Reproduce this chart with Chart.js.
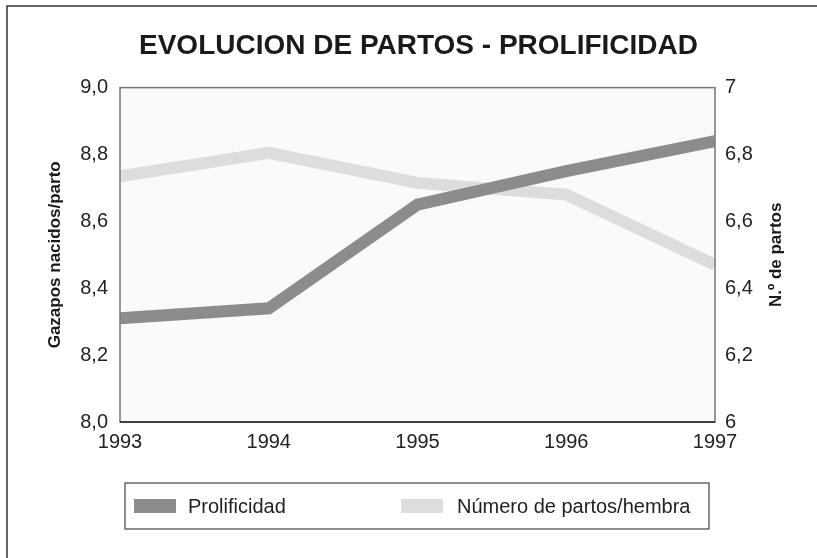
<!DOCTYPE html>
<html>
<head>
<meta charset="utf-8">
<script src="https://cdn.jsdelivr.net/npm/chart.js@4/dist/chart.umd.min.js"></script>
<style>
  html, body { margin: 0; padding: 0; background: #fff; }
  #wrap { width: 817px; height: 558px; position: relative; }
</style>
</head>
<body>
<div id="wrap"><canvas id="partosChart" width="817" height="558"></canvas></div>
<script>
// datos
const years = ['1993', '1994', '1995', '1996', '1997'];
const prolificidad = [8.31, 8.34, 8.65, 8.75, 8.84];
const partosHembra = [6.735, 6.805, 6.715, 6.68, 6.47];
const leftTicks = [8.0, 8.2, 8.4, 8.6, 8.8, 9.0];
const rightTicks = [6, 6.2, 6.4, 6.6, 6.8, 7];
const rightTitle = 'N.º de partos';

const FONT = 'Arial, "Liberation Sans", Helvetica, sans-serif';
const darkGrey = '#8c8c8c';
const lightGrey = '#dddddd';

function comma(v, forceDecimal) {
  if (!forceDecimal && Number.isInteger(v)) return String(v);
  return v.toFixed(1).replace('.', ',');
}

// fondo, marco del area de trazado y marco exterior
const framePlugin = {
  id: 'framePlugin',
  beforeDraw(chart) {
    const { ctx, chartArea: a } = chart;
    ctx.save();
    ctx.fillStyle = '#fafafa';
    ctx.fillRect(a.left, a.top, a.right - a.left, a.bottom - a.top);
    // marco exterior (solo izquierda y arriba)
    ctx.strokeStyle = '#333';
    ctx.lineWidth = 1.5;
    ctx.beginPath();
    ctx.moveTo(7, 558);
    ctx.lineTo(7, 6);
    ctx.lineTo(817, 6);
    ctx.stroke();
    ctx.restore();
  },
  afterDatasetsDraw(chart) {
    const { ctx, chartArea: a } = chart;
    ctx.save();
    ctx.lineWidth = 1.5;
    ctx.strokeStyle = '#777';
    ctx.strokeRect(a.left, a.top, a.right - a.left, a.bottom - a.top);
    ctx.strokeStyle = '#222';
    ctx.beginPath();
    ctx.moveTo(a.left, a.bottom);
    ctx.lineTo(a.right, a.bottom);
    ctx.stroke();
    // titulo del eje derecho, leido de abajo arriba
    ctx.translate(776, (a.top + a.bottom) / 2);
    ctx.rotate(-Math.PI / 2);
    ctx.font = 'bold 17px ' + FONT;
    ctx.fillStyle = '#1a1a1a';
    ctx.textAlign = 'center';
    ctx.textBaseline = 'middle';
    ctx.fillText(rightTitle, 0, 0);
    ctx.restore();
  }
};

// leyenda con recuadro
const boxLegend = {
  id: 'boxLegend',
  afterDraw(chart) {
    const ctx = chart.ctx;
    const ds = chart.data.datasets;
    const cy = 506;
    const swatchX = [134, 401];
    const textX = [188, 457];
    ctx.save();
    ctx.strokeStyle = '#444';
    ctx.lineWidth = 1.2;
    ctx.strokeRect(125, 483, 584, 46);
    ctx.font = '20px ' + FONT;
    ctx.textBaseline = 'middle';
    ds.forEach((d, i) => {
      ctx.fillStyle = d.borderColor;
      ctx.fillRect(swatchX[i], cy - 7, 42, 14);
      ctx.fillStyle = '#222';
      ctx.fillText(d.label, textX[i], cy + 1);
    });
    ctx.restore();
  }
};

new Chart(document.getElementById('partosChart'), {
  type: 'line',
  data: {
    labels: years,
    datasets: [
      {
        label: 'Prolificidad',
        data: prolificidad,
        yAxisID: 'y',
        borderColor: darkGrey,
        backgroundColor: darkGrey,
        borderWidth: 12,
        pointRadius: 0,
        tension: 0,
        clip: 0,
      },
      {
        label: 'Número de partos/hembra',
        data: partosHembra,
        yAxisID: 'y1',
        borderColor: lightGrey,
        backgroundColor: lightGrey,
        borderWidth: 12,
        pointRadius: 0,
        tension: 0,
        clip: 0,
      },
    ],
  },
  options: {
    responsive: false,
    animation: false,
    layout: { padding: { top: 0, left: 24, right: 4, bottom: 100 } },
    plugins: {
      legend: { display: false },
      tooltip: { enabled: false },
      title: {
        display: true,
        text: 'EVOLUCION DE PARTOS - PROLIFICIDAD',
        color: '#1a1a1a',
        font: { family: FONT, size: 28, weight: 'bold' },
        padding: { top: 29, bottom: 25 },
      },
    },
    scales: {
      x: {
        offset: false,
        grid: { display: false, drawTicks: false },
        border: { display: false },
        ticks: { color: '#222', font: { family: FONT, size: 20 }, padding: 8, maxRotation: 0 },
        afterFit(scale) { scale.height = 36; },
      },
      y: {
        position: 'left',
        min: 8.0,
        max: 9.0,
        afterBuildTicks(scale) { scale.ticks = leftTicks.map((v) => ({ value: v })); },
        grid: { display: false, drawTicks: false },
        border: { display: false },
        ticks: {
          color: '#222',
          font: { family: FONT, size: 20 },
          padding: 12,
          callback: (v) => comma(v, true),
        },
        title: {
          display: true,
          text: 'Gazapos nacidos/parto',
          color: '#1a1a1a',
          font: { family: FONT, size: 17, weight: 'bold' },
          padding: { top: 21, bottom: 0 },
        },
        afterFit(scale) { scale.width = 96; },
      },
      y1: {
        position: 'right',
        min: 6,
        max: 7,
        afterBuildTicks(scale) { scale.ticks = rightTicks.map((v) => ({ value: v })); },
        grid: { display: false, drawTicks: false },
        border: { display: false },
        ticks: {
          color: '#222',
          font: { family: FONT, size: 20 },
          padding: 10,
          callback: (v) => comma(v, false),
        },
        afterFit(scale) { scale.width = 98; },
      },
    },
  },
  plugins: [framePlugin, boxLegend],
});
</script>
</body>
</html>
